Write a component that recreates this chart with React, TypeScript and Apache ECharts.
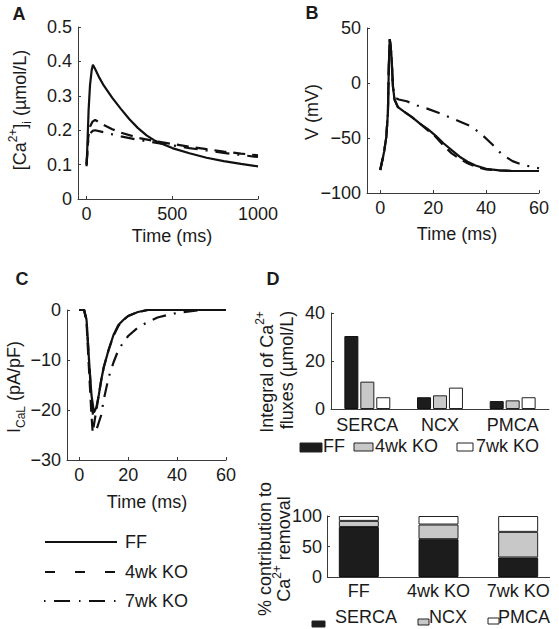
import React, { useEffect, useRef } from 'react';
import * as echarts from 'echarts';

// ---------- Panel A: [Ca2+]i transients ----------
const caTimeFF = [0, 5, 12, 20, 30, 37, 50, 75, 100, 125, 150, 200, 250, 300, 350, 400, 500, 600, 700, 800, 900, 1000];
const caFF = [0.095, 0.16, 0.26, 0.33, 0.375, 0.39, 0.378, 0.352, 0.33, 0.312, 0.294, 0.262, 0.232, 0.206, 0.185, 0.169, 0.148, 0.133, 0.12, 0.11, 0.102, 0.095];
const caTimeKO = [0, 5, 10, 20, 35, 50, 100, 150, 200, 300, 400, 500, 600, 700, 800, 900, 1000];
const ca4wk = [0.1, 0.14, 0.18, 0.21, 0.225, 0.23, 0.215, 0.203, 0.193, 0.178, 0.168, 0.16, 0.152, 0.145, 0.138, 0.132, 0.127];
const ca7wk = [0.1, 0.14, 0.17, 0.19, 0.198, 0.2, 0.194, 0.188, 0.182, 0.172, 0.164, 0.156, 0.148, 0.141, 0.134, 0.128, 0.122];

// ---------- Panel B: action potentials ----------
const vTimeFF = [0, 1, 1.5, 2.3, 2.9, 3.3, 3.6, 4.2, 4.8, 5.4, 6.7, 9, 12, 15, 18, 21, 24, 27, 30, 33, 36, 40, 45, 50, 55, 60];
const vFF = [-79, -68, -62, -49, -27, 20, 40, 27, -3, -15, -22, -26, -31, -37, -42, -48, -55, -61, -67, -71.5, -75, -78, -79.5, -80, -80, -80];
const v4wk = [-79, -68, -62, -49, -27, 20, 40, 27, -3, -15, -22, -26, -31, -37, -43, -49, -57, -64, -69, -73, -76, -78.5, -79.5, -80, -80, -80];
const vTime7 = [0, 1, 1.5, 2.3, 2.9, 3.3, 3.6, 4.2, 4.8, 5.4, 7, 10, 14, 18, 22, 26, 30, 34, 38, 42, 46, 50, 54, 57, 60];
const v7wk = [-79, -68, -62, -49, -27, 20, 40, 27, -3, -13, -15, -16.6, -20.5, -23.5, -27, -31, -35, -39, -46, -55, -65, -71, -74.5, -76, -77.5];

// ---------- Panel C: L-type Ca current ----------
const iTimeFF = [0, 2, 3, 4, 5, 6, 7, 8, 9, 10, 12, 14, 16, 18, 20, 24, 28, 60];
const iFF = [0, 0, -2, -10, -17, -20.5, -19.5, -17, -14, -11.5, -8, -5, -3, -2, -1.2, -0.4, 0, 0];
const iTime4 = [0, 2, 3, 4, 5, 5.5, 6, 7, 8, 9, 10, 12, 14, 16, 18, 20, 24, 28, 60];
const i4wk = [0, 0, -2.5, -12, -21, -24.5, -23, -20, -17, -14, -11.5, -8, -5.2, -3.2, -2, -1.2, -0.4, 0, 0];
const iTime7 = [0, 2, 3, 4, 5, 6, 7, 8, 9, 10, 12, 14, 16, 18, 20, 24, 28, 32, 36, 40, 45, 50, 60];
const i7wk = [0, 0, -2, -10, -18, -23, -24, -22.5, -21, -18, -13.5, -10.5, -8, -6.5, -5.2, -3.5, -2.4, -1.5, -1, -0.6, -0.3, 0, 0];

// ---------- Panel D: flux integrals and % contributions ----------
const fluxCategories = ['SERCA', 'NCX', 'PMCA'];
const fluxFF = [30.4, 4.9, 3.3];
const flux4wk = [11.4, 5.7, 3.6];
const flux7wk = [4.9, 8.9, 4.9];
const groupNames = ['FF', '4wk KO', '7wk KO'];
const pctSERCA = [82, 62, 32];
const pctNCX = [10, 24, 42];
const pctPMCA = [8, 14, 26];

const FONT = '"Liberation Sans", Arial, Helvetica, sans-serif';
const FS = 18;
const TXT = '#1a1a1a';
const AX = '#3a3a3a';
const LINE = '#111';
const DASH = [12, 7];
const DASHDOT = [14, 8, 2, 8];

const pts = (xs: number[], ys: number[]) => xs.map((x, i) => [x, ys[i]]);
const minus = (v: number) => String(v).replace('-', '\u2212');

function valueAxis(grid: number, min: number, max: number, extra: any = {}) {
  const { labelValues, interval, formatter, margin, offset } = extra;
  return {
    type: 'value',
    gridIndex: grid,
    min,
    max,
    ...(interval !== undefined ? { interval } : {}),
    ...(offset !== undefined ? { offset } : {}),
    axisLine: { show: true, onZero: false, lineStyle: { color: AX, width: 1 } },
    axisTick: {
      show: true, inside: true, length: 3, lineStyle: { color: AX },
      ...(labelValues ? { customValues: labelValues } : {}),
    },
    axisLabel: {
      color: TXT, fontSize: FS, fontFamily: FONT, margin: margin ?? 6,
      formatter: formatter ?? ((v: number) => minus(v)),
      ...(labelValues ? { customValues: labelValues } : {}),
    },
    splitLine: { show: false },
  };
}

function lineSeries(x: number, data: number[][], type: any, z: number) {
  return {
    type: 'line',
    xAxisIndex: x,
    yAxisIndex: x,
    data,
    showSymbol: false,
    symbol: 'none',
    z,
    lineStyle: { color: LINE, width: 2.2, type },
  };
}

const richBase = {
  n: { fontSize: FS, lineHeight: 26, fontFamily: FONT, fill: TXT },
  sup: { fontSize: 12, fontFamily: FONT, fill: TXT, verticalAlign: 'top' },
  sub: { fontSize: 12, fontFamily: FONT, fill: TXT, verticalAlign: 'bottom' },
};

function vText(x: number, y: number, text: string) {
  return {
    type: 'text', x, y, rotation: Math.PI / 2,
    style: { text, rich: richBase, align: 'center', verticalAlign: 'middle', fill: TXT, font: `${FS}px ${FONT}` },
  };
}
function hText(x: number, y: number, text: string, align = 'left', bold = false) {
  return {
    type: 'text', x, y,
    style: { text, align, verticalAlign: 'middle', fill: TXT, font: `${bold ? 'bold ' : ''}${FS}px ${FONT}` },
  };
}
function box(x: number, y: number, w: number, h: number, fill: string) {
  return { type: 'rect', shape: { x, y, width: w, height: h }, style: { fill, stroke: '#222', lineWidth: 1 } };
}
function legLine(x1: number, y: number, dash: any) {
  return {
    type: 'line', shape: { x1, y1: y, x2: 117, y2: y },
    style: { stroke: LINE, lineWidth: 2.2, lineDash: dash },
  };
}

const categoryAxis = (grid: number, data: string[], margin: number, showLine: boolean) => ({
  type: 'category', gridIndex: grid, data,
  axisLine: { show: showLine, onZero: false, lineStyle: { color: AX, width: 1 } },
  axisTick: { show: true, inside: true, length: 3, alignWithLabel: true, interval: 0, lineStyle: { color: AX } },
  axisLabel: { color: TXT, fontSize: FS, fontFamily: FONT, margin, interval: 0, hideOverlap: false },
});

const option: any = {
  animation: false,
  backgroundColor: '#fff',
  textStyle: { fontFamily: FONT },
  grid: [
    { left: 78, top: 27, width: 180, height: 172 },
    { left: 367, top: 28, width: 172, height: 165 },
    { left: 67, top: 310, width: 159, height: 150 },
    { left: 331, top: 313, width: 218, height: 96 },
    { left: 319, top: 516, width: 239, height: 61 },
  ],
  xAxis: [
    valueAxis(0, -50, 1000, { labelValues: [0, 500, 1000] }),
    valueAxis(1, -5, 60, { labelValues: [0, 20, 40, 60] }),
    valueAxis(2, -5, 60, { labelValues: [0, 20, 40, 60] }),
    categoryAxis(3, fluxCategories, 7, true),
    categoryAxis(4, groupNames, 5, false),
  ],
  yAxis: [
    valueAxis(0, 0, 0.5, { interval: 0.1 }),
    valueAxis(1, -100, 50, { interval: 50 }),
    valueAxis(2, -30, 0, { interval: 10 }),
    valueAxis(3, 0, 40, { interval: 20 }),
    valueAxis(4, 0, 100, { interval: 50, offset: -8, margin: 5 }),
  ],
  series: [
    lineSeries(0, pts(caTimeKO, ca7wk), DASHDOT, 2),
    lineSeries(0, pts(caTimeKO, ca4wk), DASH, 3),
    lineSeries(0, pts(caTimeFF, caFF), 'solid', 4),
    lineSeries(1, pts(vTime7, v7wk), DASHDOT, 2),
    lineSeries(1, pts(vTimeFF, v4wk), DASH, 3),
    lineSeries(1, pts(vTimeFF, vFF), 'solid', 4),
    lineSeries(2, pts(iTime7, i7wk), DASHDOT, 2),
    lineSeries(2, pts(iTime4, i4wk), DASH, 3),
    lineSeries(2, pts(iTimeFF, iFF), 'solid', 4),
    {
      type: 'bar', name: 'FF', xAxisIndex: 3, yAxisIndex: 3, data: fluxFF, barWidth: 14, barGap: '14%',
      itemStyle: { color: '#1c1c1c', borderColor: '#111', borderWidth: 1 },
    },
    {
      type: 'bar', name: '4wk KO', xAxisIndex: 3, yAxisIndex: 3, data: flux4wk, barWidth: 14, barGap: '14%',
      itemStyle: { color: '#c8c8c8', borderColor: '#222', borderWidth: 1 },
    },
    {
      type: 'bar', name: '7wk KO', xAxisIndex: 3, yAxisIndex: 3, data: flux7wk, barWidth: 14, barGap: '14%',
      itemStyle: { color: '#ffffff', borderColor: '#222', borderWidth: 1 },
    },
    {
      type: 'bar', name: 'SERCA', xAxisIndex: 4, yAxisIndex: 4, stack: 'pct', barWidth: 40, data: pctSERCA,
      itemStyle: { color: '#1c1c1c', borderColor: '#111', borderWidth: 1 },
    },
    {
      type: 'bar', name: 'NCX', xAxisIndex: 4, yAxisIndex: 4, stack: 'pct', barWidth: 40, data: pctNCX,
      itemStyle: { color: '#c8c8c8', borderColor: '#222', borderWidth: 1 },
    },
    {
      type: 'bar', name: 'PMCA', xAxisIndex: 4, yAxisIndex: 4, stack: 'pct', barWidth: 40, data: pctPMCA,
      itemStyle: { color: '#ffffff', borderColor: '#222', borderWidth: 1 },
    },
  ],
  graphic: {
    elements: [
      hText(19, 14, 'A', 'center', true),
      hText(312, 13, 'B', 'center', true),
      hText(22, 279, 'C', 'center', true),
      hText(273, 279, 'D', 'center', true),
      // axis titles
      vText(20, 110, '{n|[Ca}{sup|2+}{n|]}{sub|i}{n| (µmol/L)}'),
      vText(312, 112, '{n|V (mV)}'),
      vText(14, 387, '{n|I}{sub|CaL}{n| (pA/pF)}'),
      vText(267, 372, '{n|Integral of Ca}{sup|2+}'),
      vText(287, 370, '{n|fluxes (µmol/L)}'),
      vText(265, 549, '{n|% contribution to}'),
      vText(284, 549, '{n|Ca}{sup|2+}{n| removal}'),
      hText(172, 236, 'Time (ms)', 'center'),
      hText(457, 234, 'Time (ms)', 'center'),
      hText(147, 502, 'Time (ms)', 'center'),
      // bottom x-axis line for the % contribution panel
      { type: 'line', shape: { x1: 327, y1: 577.5, x2: 550, y2: 577.5 }, style: { stroke: AX, lineWidth: 1 } },
      // line legend
      legLine(45, 542, null),
      legLine(45, 572, [10, 20]),
      legLine(44, 601, [1.5, 8.5, 16, 9]),
      hText(125, 542, 'FF'),
      hText(125, 572, '4wk KO'),
      hText(125, 601, '7wk KO'),
      // flux legend
      box(300, 443, 22, 9, '#1c1c1c'),
      hText(323, 446, 'FF'),
      box(354, 443, 19, 8, '#c8c8c8'),
      hText(375, 446, '4wk KO'),
      box(457, 443, 16, 8, '#ffffff'),
      hText(476, 446, '7wk KO'),
      // contribution legend
      box(312, 621, 13, 6, '#1c1c1c'),
      hText(335, 617, 'SERCA'),
      box(418, 619, 11, 6, '#c8c8c8'),
      hText(429, 617, 'NCX'),
      box(488, 618, 11, 6, '#ffffff'),
      hText(498, 617, 'PMCA'),
    ],
  },
};

export default function App() {
  const ref = useRef<HTMLDivElement>(null);
  useEffect(() => {
    const chart = echarts.init(ref.current!, null, { renderer: 'svg' });
    chart.setOption(option);
    return () => chart.dispose();
  }, []);
  return (
    <div
      ref={ref}
      style={{ position: 'absolute', left: 0, top: 0, width: 559, height: 629, background: '#fff' }}
    />
  );
}
